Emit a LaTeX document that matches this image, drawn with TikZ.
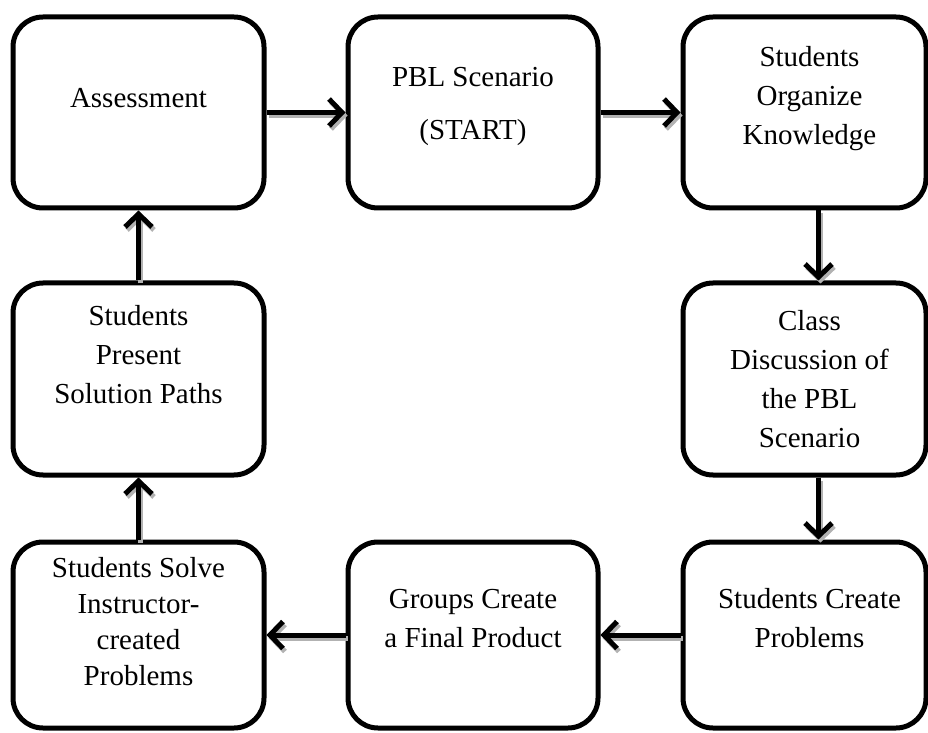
\documentclass[tikz,border=0pt]{standalone}
\usepackage{fontspec}
\setmainfont{Liberation Serif}
\usetikzlibrary{arrows.meta}

\tikzset{
  stage/.style={draw, line width=5pt, rounded corners=30pt, inner sep=0pt},
  words/.style={align=center, font=\fontsize{29}{39}\selectfont},
  flow/.style={line width=5pt, -{Straight Barb[length=13pt,width=27pt]},
    preaction={draw=gray!60, line width=5pt, -{Straight Barb[length=13pt,width=27pt]},
      transform canvas={shift={(2pt,-3pt)}}}}
}

\begin{document}
\begin{tikzpicture}[x=1pt,y=1pt]
            \useasboundingbox (0,0) rectangle (928,732);
            % boxes
            \node[stage, minimum width=251pt, minimum height=191pt] (assess) at (138.5,619.5) {};
            \node[stage, minimum width=250pt, minimum height=191pt] (pbl) at (473,619.5) {};
            \node[stage, minimum width=243pt, minimum height=191pt] (organize) at (804.5,619.5) {};
            \node[stage, minimum width=251pt, minimum height=192pt] (present) at (138.5,353) {};
            \node[stage, minimum width=243pt, minimum height=192pt] (discuss) at (804.5,353) {};
            \node[stage, minimum width=251pt, minimum height=186pt] (solve) at (138.5,97) {};
            \node[stage, minimum width=250pt, minimum height=186pt] (groups) at (473,97) {};
            \node[stage, minimum width=243pt, minimum height=186pt] (create) at (804.5,97) {};
            % texts
            \node[words] (assess-t) at ([yshift=14pt]assess.center) {Assessment};
            \node[words] (pbl-t) at ([yshift=6pt]pbl.center) {PBL Scenario\\[14pt](START)};
            \node[words] (organize-t) at ([xshift=5pt,yshift=14pt]organize.center) {Students\\Organize\\Knowledge};
            \node[words] (present-t) at ([yshift=24pt]present.center) {Students\\Present\\Solution Paths};
            \node[words] (discuss-t) at ([xshift=5pt]discuss.center) {Class\\Discussion of\\the PBL\\Scenario};
            \node[words, font=\fontsize{29}{36}\selectfont] (solve-t) at ([yshift=13pt]solve.center) {Students Solve\\Instructor-\\created\\Problems};
            \node[words] (groups-t) at ([yshift=16pt]groups.center) {Groups Create\\a Final Product};
            \node[words] (create-t) at ([xshift=5pt,yshift=17pt]create.center) {Students Create\\Problems};
            % cycle
            \draw[flow] (assess) -- (pbl);
            \draw[flow] (pbl) -- (organize);
            \draw[flow] ([xshift=14pt]organize.south) -- ([xshift=14pt]discuss.north);
            \draw[flow] ([xshift=14pt]discuss.south) -- ([xshift=14pt]create.north);
            \draw[flow] (create) -- (groups);
            \draw[flow] (groups) -- (solve);
            \draw[flow] (solve) -- (present);
            \draw[flow] (present) -- (assess);
\end{tikzpicture}
\end{document}
